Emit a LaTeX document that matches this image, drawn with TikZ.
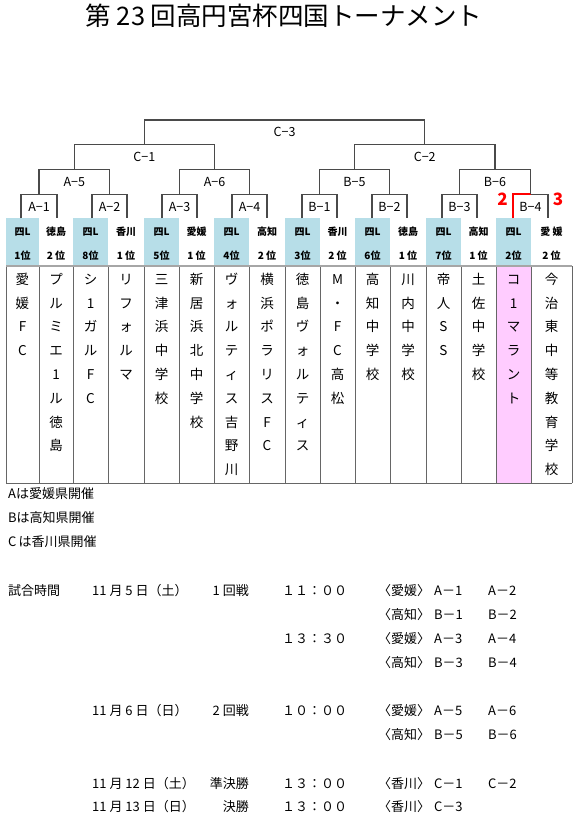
\documentclass[tikz,border=0pt]{standalone}
\usepackage{fontspec}
\setmainfont{Noto Sans CJK JP}
\definecolor{hblue}{HTML}{B7DEE8}
\definecolor{hpink}{HTML}{FFCCFF}
\definecolor{lnc}{HTML}{4A4A4A}
\begin{document}
\begin{tikzpicture}[x=1pt,y=-1pt,
  br/.style={draw=lnc, line width=1.2pt},
  redline/.style={draw=red, line width=2pt},
  cj/.style={inner sep=0pt, text height=0.88em, text depth=0.12em},
  lbl/.style={cj, font=\fontsize{12.5}{12.5}\selectfont},
  hd/.style={cj, font=\bfseries\fontsize{10}{10}\selectfont},
  bd/.style={cj, font=\fontsize{13.5}{13.5}\selectfont},
  tx/.style={cj, anchor=west, font=\fontsize{13}{13}\selectfont},
  txr/.style={cj, anchor=east, font=\fontsize{13}{13}\selectfont},
  rednum/.style={cj, text=red, font=\bfseries\fontsize{17}{17}\selectfont},
  ttl/.style={cj, font=\fontsize{25.5}{25.5}\selectfont}]
\useasboundingbox (0,0) rectangle (582,820);
\fill[white] (0,0) rectangle (582,820);

% title
\node[ttl] (title) at (284,22) {第 23 回高円宮杯四国トーナメント};

% header fills
\foreach \l/\r [count=\j] in {6/39, 73/108, 144/179, 214/249, 285/320, 355/390, 426/461, 496/531}
  \fill[hblue] (\l,218.3) rectangle (\r,265);
\fill[hpink] (496,266) rectangle (531,483);

% table lines
\foreach \b in {6,39,73,108,144,179,214,249,285,320,355,390,426,461,496,531,572}
  \draw[draw=black!60, line width=0.9pt] (\b,266) -- (\b,483);
\draw[draw=black!60, line width=0.9pt] (6,483) -- (572,483);
\draw[draw=black!35, line width=2pt] (6,266) -- (572,266);

% columns: header + team names
\foreach \x/\ha/\hb/\tm [count=\i] in {
  22.5/四L/1位/{愛,媛,F,C},
  56/徳島/2 位/{プ,ル,ミ,エ,1,ル,徳,島},
  90.5/四L/8位/{シ,1,ガ,ル,F,C},
  126/香川/1 位/{リ,フ,ォ,ル,マ},
  161.5/四L/5位/{三,津,浜,中,学,校},
  196.5/愛媛/1 位/{新,居,浜,北,中,学,校},
  231.5/四L/4位/{ヴ,ォ,ル,テ,ィ,ス,吉,野,川},
  267/高知/2 位/{横,浜,ポ,ラ,リ,ス,F,C},
  302.5/四L/3位/{徳,島,ヴ,ォ,ル,テ,ィ,ス},
  337.5/香川/2 位/{M,・,F,C,高,松},
  372.5/四L/6位/{高,知,中,学,校},
  408/徳島/1 位/{川,内,中,学,校},
  443.5/四L/7位/{帝,人,S,S},
  478.5/高知/1 位/{土,佐,中,学,校},
  513.5/四L/2位/{コ,1,マ,ラ,ン,ト},
  551.5/愛 媛/2 位/{今,治,東,中,等,教,育,学,校}}{
  \node[hd] (ha\i) at (\x,231.7) {\ha};
  \node[hd] (hb\i) at (\x,255.7) {\hb};
  \foreach \c [count=\k] in \tm
    \node[bd] (t\i-\k) at (\x,{280.5+23.8*(\k-1)}) {\c};
}

% bracket leg coordinates
\foreach \i/\lx in {1/21,2/57,3/92,4/127,5/162,6/197,7/232,8/267,9/302,10/337,11/372,12/407,13/442,14/477,15/513,16/548}
  \coordinate (c\i) at (\lx,218.3);

% first round
\foreach \nm/\a/\b/\x/\lab in {A1/c1/c2/39/A−1, A2/c3/c4/109.5/A−2, A3/c5/c6/179.5/A−3, A4/c7/c8/249.5/A−4,
  B1/c9/c10/319.5/B−1, B2/c11/c12/389.5/B−2, B3/c13/c14/459.5/B−3}{
  \coordinate (m\nm) at (\x,194.3);
  \draw[br] (\a) |- (m\nm) -| (\b);
  \node[lbl] (l\nm) at (\x,207.7) {\lab};
}
% B-4 with red leg
\coordinate (mB4) at (530.5,194.3);
\draw[br] (mB4) -| (c16);
\draw[redline] (c15) |- (mB4);
\node[lbl] (lB4) at (530.5,207.7) {B−4};
\node[rednum] (r2) at (502.5,202) {2};
\node[rednum] (r3) at (558,202) {3};

% second round
\foreach \nm/\a/\b/\x/\lab in {A5/mA1/mA2/74.25/A−5, A6/mA3/mA4/214.5/A−6, B5/mB1/mB2/354.5/B−5, B6/mB3/mB4/495/B−6}{
  \coordinate (m\nm) at (\x,169.3);
  \draw[br] (\a) |- (m\nm) -| (\b);
  \node[lbl] (l\nm) at (\x,182.7) {\lab};
}
% semi finals
\foreach \nm/\a/\b/\x/\lab in {C1/mA5/mA6/144.4/C−1, C2/mB5/mB6/424.75/C−2}{
  \coordinate (m\nm) at (\x,144.3);
  \draw[br] (\a) |- (m\nm) -| (\b);
  \node[lbl] (l\nm) at (\x,157.7) {\lab};
}
% final
\coordinate (mC3) at (284.6,120);
\draw[br] (mC1) |- (mC3) -| (mC2);
\node[lbl] (lC3) at (284.6,132.7) {C−3};

% notes
\node[tx] (nA) at (8,495) {Aは愛媛県開催};
\node[tx] (nB) at (8,519) {Bは高知県開催};
\node[tx] (nC) at (8,543) {C\,は香川県開催};

% schedule
\node[tx] (s0) at (8,592) {試合時間};
\node[tx] (d1) at (92,592) {11 月 5 日（土）};
\node[txr] (r1) at (249,592) {1 回戦};
\node[tx] (k1) at (282,592) {１１：００};
\node[tx] (v1) at (378,592) {〈愛媛〉};
\node[tx] (g1) at (434,592) {A－1};
\node[tx] (g2) at (488,592) {A－2};

\node[tx] (v2) at (378,616) {〈高知〉};
\node[tx] (g3) at (434,616) {B－1};
\node[tx] (g4) at (488,616) {B－2};

\node[tx] (k2) at (282,640) {１３：３０};
\node[tx] (v3) at (378,640) {〈愛媛〉};
\node[tx] (g5) at (434,640) {A－3};
\node[tx] (g6) at (488,640) {A－4};

\node[tx] (v4) at (378,664) {〈高知〉};
\node[tx] (g7) at (434,664) {B－3};
\node[tx] (g8) at (488,664) {B－4};

\node[tx] (d2) at (92,712) {11 月 6 日（日）};
\node[txr] (r2b) at (249,712) {2 回戦};
\node[tx] (k3) at (282,712) {１０：００};
\node[tx] (v5) at (378,712) {〈愛媛〉};
\node[tx] (g9) at (434,712) {A－5};
\node[tx] (g10) at (488,712) {A－6};

\node[tx] (v6) at (378,736) {〈高知〉};
\node[tx] (g11) at (434,736) {B－5};
\node[tx] (g12) at (488,736) {B－6};

\node[tx] (d3) at (92,785) {11 月 12 日（土）};
\node[txr] (r3b) at (249,785) {準決勝};
\node[tx] (k4) at (282,785) {１３：００};
\node[tx] (v7) at (378,785) {〈香川〉};
\node[tx] (g13) at (434,785) {C－1};
\node[tx] (g14) at (488,785) {C－2};

\node[tx] (d4) at (92,808) {11 月 13 日（日）};
\node[txr] (r4b) at (249,808) {決勝};
\node[tx] (k5) at (282,808) {１３：００};
\node[tx] (v8) at (378,808) {〈香川〉};
\node[tx] (g15) at (434,808) {C－3};
\end{tikzpicture}
\end{document}
